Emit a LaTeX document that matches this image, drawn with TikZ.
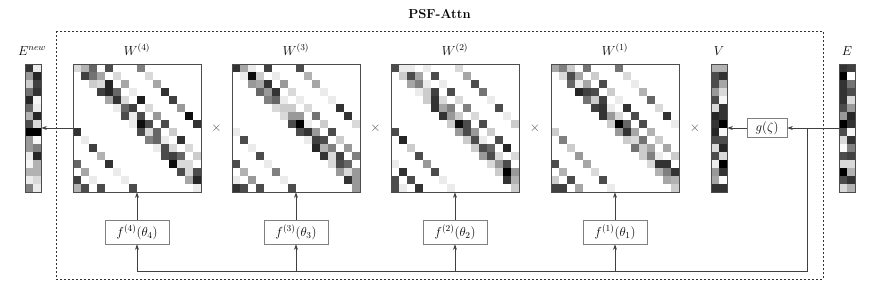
\RequirePackage{fix-cm}
\documentclass[tikz,border=0pt]{standalone}
\usetikzlibrary{arrows.meta}
\newcommand{\drawmat}[2]{%
  \foreach \r/\a/\b/\c/\d/\e in {#2} {%
    \foreach \k/\v in {0/\a,1/\b,2/\c,4/\d,8/\e} {%
      \pgfmathtruncatemacro{\cc}{mod(\r+\k,16)}%
      \fill[black!\v] ({#1+8*\cc},{-64-8*\r}) rectangle ++(8,-8);
    }%
  }%
}
\newcommand{\drawvec}[2]{%
  \foreach \r/\a/\b in {#2} {%
    \fill[black!\a] ({#1},{-64-8*\r}) rectangle ++(8,-8);
    \fill[black!\b] ({#1+8},{-64-8*\r}) rectangle ++(8,-8);
  }%
}
\begin{document}
\begin{tikzpicture}[x=1pt,y=1pt,
  every node/.style={font=\fontsize{13}{15}\selectfont},
  matnode/.style={draw=black!70,line width=0.8pt,minimum width=128pt,minimum height=128pt,inner sep=0pt},
  vecnode/.style={draw=black!70,line width=0.8pt,minimum width=16pt,minimum height=128pt,inner sep=0pt},
  fbox/.style={draw=black!50,line width=0.7pt,minimum width=64pt,minimum height=24pt,inner sep=2pt},
  gbox/.style={draw=black!50,line width=0.7pt,minimum width=40pt,minimum height=19pt,inner sep=2pt},
  lbl/.style={anchor=base,inner sep=0pt},
  conn/.style={draw=black!75,line width=0.7pt},
  arr/.style={conn,-{Stealth[length=5.5pt,width=4pt]}},
  timesnode/.style={text=black!70,inner sep=1pt}
]
\useasboundingbox (0,0) rectangle (872,-282);
\draw[black!80,line width=0.7pt,dash pattern=on 2pt off 2pt] (56,-31.3) rectangle (823,-279.3);
\node[font=\fontsize{13}{15}\selectfont\bfseries] (title) at (439.5,-14) {PSF-Attn};

% matrices cells
\drawmat{73}{0/15/30/60/70/50,1/75/55/35/15/15,2/20/15/85/35/35,3/75/85/60/8/80,4/35/80/15/88/75,5/8/60/75/15/40,6/70/8/70/40/95,7/8/95/70/70/80,8/70/15/60/20/80,9/50/60/8/80/8,10/8/70/15/15/75,11/70/75/60/20/30,12/95/15/15/60/80,13/70/15/70/35/8,14/35/85/75/8/8,15/8/30/70/70/70}
\drawmat{232}{0/80/35/8/75/70,1/8/95/20/8/30,2/40/35/80/40/35,3/60/40/80/15/8,4/50/60/8/8/8,5/15/20/20/15/80,6/15/40/40/55/80,7/70/100/8/20/15,8/70/80/40/70/8,9/8/75/70/20/70,10/85/30/50/40/8,11/80/15/75/50/70,12/15/70/60/70/8,13/40/15/40/30/50,14/80/40/8/40/8,15/40/80/70/70/70}
\drawmat{391}{0/70/8/8/8/15,1/20/70/35/70/35,2/35/50/8/8/70,3/8/20/75/70/55,4/20/80/15/15/8,5/80/35/50/50/70,6/80/40/20/15/8,7/20/95/70/70/20,8/40/70/40/20/70,9/20/70/8/70/85,10/20/70/60/85/20,11/40/70/15/15/70,12/15/40/70/8/40,13/20/100/40/80/70,14/80/30/70/70/8,15/20/70/8/80/8}
\drawmat{551}{0/35/50/20/55/55,1/15/70/35/20/15,2/60/8/35/70/8,3/85/75/70/20/30,4/55/20/75/8/60,5/75/80/8/80/15,6/80/40/15/70/80,7/20/100/60/70/8,8/40/80/35/30/20,9/20/15/55/20/50,10/55/20/35/35/20,11/20/50/8/20/40,12/15/80/80/70/35,13/30/50/80/30/15,14/35/30/20/70/70,15/20/75/75/35/8}
% vectors cells
\drawvec{25}{0/80/8,1/40/85,2/20/75,3/55/80,4/85/4,5/60/8,6/30/85,7/70/15,8/100/100,9/40/3,10/40/50,11/8/85,12/4/30,13/30/30,14/8/15,15/50/8}
\drawvec{711}{0/30/30,1/70/80,2/70/35,3/40/15,4/70/3,5/15/80,6/85/80,7/80/100,8/85/4,9/70/70,10/15/85,11/70/15,12/8/100,13/40/80,14/35/2,15/80/80}
\drawvec{839}{0/80/75,1/100/0,2/80/55,3/80/70,4/80/15,5/70/40,6/40/85,7/100/80,8/70/4,9/15/80,10/2/50,11/70/75,12/15/15,13/100/30,14/70/80,15/15/30}

% frames
\node[matnode] (W4) at (137,-128) {};
\node[matnode] (W3) at (296,-128) {};
\node[matnode] (W2) at (455,-128) {};
\node[matnode] (W1) at (615,-128) {};
\node[vecnode] (Enew) at (33,-128) {};
\node[vecnode] (V) at (719,-128) {};
\node[vecnode] (E) at (847,-128) {};

% labels
\node[lbl] (lW4) at (137,-55) {$W^{(4)}$};
\node[lbl] (lW3) at (296,-55) {$W^{(3)}$};
\node[lbl] (lW2) at (455,-55) {$W^{(2)}$};
\node[lbl] (lW1) at (615,-55) {$W^{(1)}$};
\node[lbl] (lEnew) at (32,-55) {$E^{new}$};
\node[lbl] (lV) at (719,-55) {$V$};
\node[lbl] (lE) at (847,-55) {$E$};

% times
\node[timesnode] (t1) at (216.5,-128) {$\times$};
\node[timesnode] (t2) at (375.5,-128) {$\times$};
\node[timesnode] (t3) at (535,-128) {$\times$};
\node[timesnode] (t4) at (695,-128) {$\times$};

% function boxes
\node[fbox] (f4) at (137,-232) {$f^{(4)}(\theta_4)$};
\node[fbox] (f3) at (296,-232) {$f^{(3)}(\theta_3)$};
\node[fbox] (f2) at (455,-232) {$f^{(2)}(\theta_2)$};
\node[fbox] (f1) at (615,-232) {$f^{(1)}(\theta_1)$};
\node[gbox] (g) at (767,-128) {$g(\zeta)$};

\coordinate (corner) at (807,-271.7);

% connectors
\draw[arr] (E.west) -- (g.east);
\draw[arr] (g.west) -- (V.east);
\draw[arr] (W4.west) -- (Enew.east);
\draw[conn] (g.east -| corner) -- (corner) -- (f4.south |- corner);
\foreach \f/\w in {f4/W4,f3/W3,f2/W2,f1/W1} {
  \draw[arr] (\f.south |- corner) -- (\f.south);
  \draw[arr] (\f.north) -- (\w.south);
}
\end{tikzpicture}
\end{document}
